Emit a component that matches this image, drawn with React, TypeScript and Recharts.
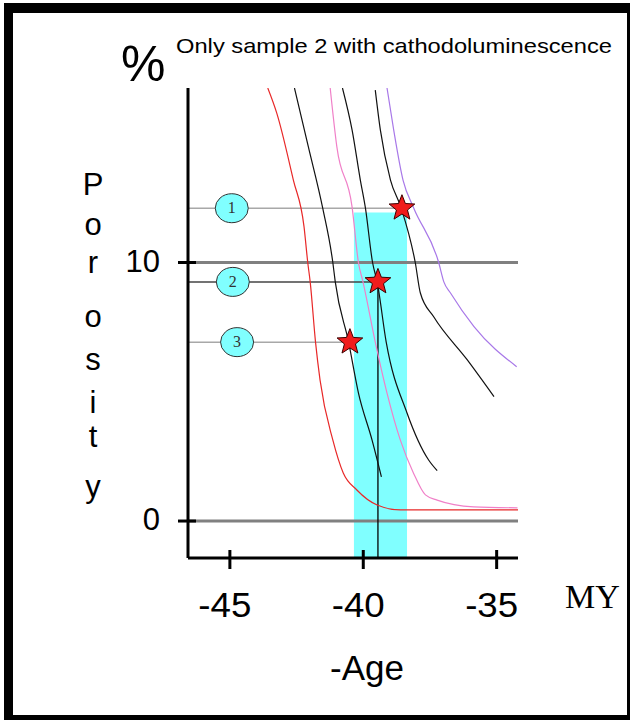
import { ComposedChart, Line, Scatter, XAxis, YAxis, ReferenceLine, ReferenceArea } from "recharts"

const X_MIN = -46.57
const X_MAX = -34.2
const Y_MIN = -1.43
const Y_MAX = 16.75

const xTicks = [-45, -40, -35]
const yTicks = [0, 10]

// porosity curves (x = -age in MY, y = porosity %)
const redCurve = [
  { x: -43.58, y: 16.75 }, { x: -43.24, y: 15.77 }, { x: -42.62, y: 13.19 }, { x: -42.22, y: 11.38 },
  { x: -42.08, y: 9.99 }, { x: -41.99, y: 9.25 }, { x: -41.79, y: 6.92 }, { x: -41.62, y: 5.45 },
  { x: -41.14, y: 3.13 }, { x: -40.75, y: 1.86 }, { x: -40.24, y: 1.2 }, { x: -39.48, y: 0.62 },
  { x: -38.61, y: 0.43 }, { x: -34.17, y: 0.43 },
]
const pinkCurve = [
  { x: -41.24, y: 16.75 }, { x: -40.99, y: 14.47 }, { x: -40.42, y: 12.15 }, { x: -40.18, y: 9.99 },
  { x: -40.01, y: 9.25 }, { x: -39.55, y: 6.92 }, { x: -39.11, y: 4.95 }, { x: -38.61, y: 3.13 },
  { x: -38.12, y: 1.86 }, { x: -37.67, y: 1.01 }, { x: -37.23, y: 0.81 }, { x: -35.86, y: 0.55 },
  { x: -34.22, y: 0.51 },
]
const purpleCurve = [
  { x: -39.11, y: 16.75 }, { x: -38.86, y: 15.13 }, { x: -38.51, y: 13.19 }, { x: -38.11, y: 12.11 },
  { x: -37.17, y: 9.99 }, { x: -36.98, y: 9.25 }, { x: -36.73, y: 8.82 }, { x: -35.85, y: 7.52 },
  { x: -34.25, y: 5.97 },
]
const blackCurveA = [
  { x: -42.58, y: 16.75 }, { x: -42.06, y: 14.48 }, { x: -41.52, y: 12.1 }, { x: -41.14, y: 9.99 },
  { x: -41.05, y: 9.25 }, { x: -40.55, y: 6.92 }, { x: -40.18, y: 4.95 }, { x: -39.67, y: 3.13 },
  { x: -39.32, y: 1.71 },
]
const blackCurveB = [
  { x: -40.78, y: 16.75 }, { x: -40.42, y: 15.13 }, { x: -40.11, y: 13.19 }, { x: -39.92, y: 12.11 },
  { x: -39.65, y: 9.99 }, { x: -39.48, y: 9.25 }, { x: -39.14, y: 6.92 }, { x: -38.36, y: 4.18 },
  { x: -37.55, y: 2.36 }, { x: -37.23, y: 1.95 },
]
const blackCurveC = [
  { x: -39.55, y: 16.67 }, { x: -39.36, y: 15.13 }, { x: -38.98, y: 13.19 }, { x: -38.58, y: 12.11 },
  { x: -38.05, y: 9.99 }, { x: -37.86, y: 8.82 }, { x: -37.36, y: 7.9 }, { x: -36.1, y: 6.23 },
  { x: -35.1, y: 4.81 },
]

const samples = [
  { id: 1, x: -38.55, y: 12.1 },
  { id: 2, x: -39.45, y: 9.25 },
  { id: 3, x: -40.5, y: 6.92 },
]
const sampleTags = [
  { id: 1, x: -44.93, y: 12.1 },
  { id: 2, x: -44.89, y: 9.25 },
  { id: 3, x: -44.73, y: 6.92 },
]
const sampleLineColors = ["#a8a8a8", "#444444", "#a8a8a8"]

const cathodoBand = { from: -40.35, to: -38.36, top: 11.93 }

const porosityLetters = ["P", "o", "r", "o", "s", "i", "t", "y"]
const letterBaselines = [195, 235, 273, 327, 370, 413, 447, 497]

const SANS = "'Liberation Sans', Arial, sans-serif"
const SERIF = "'Liberation Serif', 'Times New Roman', serif"

function XTick(props: any) {
  const { x, y, payload } = props
  return (
    <g>
      <line x1={x} x2={x} y1={y - 8} y2={y + 11} stroke="#000" strokeWidth={3} />
      <text x={x - 5} y={y + 59} textAnchor="middle" fontFamily={SANS} fontSize={35} fill="#000"
        textLength={53} lengthAdjust="spacingAndGlyphs">
        {payload.value}
      </text>
    </g>
  )
}

function YTick(props: any) {
  const { x, y, payload } = props
  return (
    <g>
      <line x1={x - 10} x2={x + 8} y1={y} y2={y} stroke="#000" strokeWidth={3} />
      <text x={x - 28} y={y + 9} textAnchor="end" fontFamily={SANS} fontSize={31} fill="#000">
        {payload.value}
      </text>
    </g>
  )
}

function Star(props: any) {
  const { cx, cy } = props
  const pts: string[] = []
  for (let i = 0; i < 10; i++) {
    const r = i % 2 === 0 ? 13.5 : 5.8
    const a = -Math.PI / 2 + (i * Math.PI) / 5
    pts.push(`${cx + r * Math.cos(a)},${cy + r * Math.sin(a)}`)
  }
  return <polygon points={pts.join(" ")} fill="#f01c1c" stroke="#3a0000" strokeWidth={1} />
}

function Tag(props: any) {
  const { cx, cy, payload } = props
  return (
    <g>
      <ellipse cx={cx} cy={cy} rx={16.5} ry={14.5} fill="#80ffff" stroke="#333" strokeWidth={1} />
      <text x={cx} y={cy + 5} textAnchor="middle" fontFamily={SERIF} fontSize={16} fill="#333">
        {payload.id}
      </text>
    </g>
  )
}

const curveProps = {
  type: "monotone" as const,
  dataKey: "y",
  dot: false,
  activeDot: false,
  isAnimationActive: false,
  strokeWidth: 1.2,
}

export default function App() {
  return (
    <div style={{ position: "absolute", left: 0, top: 0, width: 630, height: 720, background: "#fff" }}>
      <div style={{ position: "absolute", left: 0, top: 0 }}>
        <ComposedChart width={630} height={720} margin={{ top: 88, right: 112, bottom: 102, left: 128 }}>
          <XAxis
            type="number"
            dataKey="x"
            domain={[X_MIN, X_MAX]}
            ticks={xTicks}
            allowDataOverflow
            height={60}
            tickSize={0}
            tickMargin={0}
            tickLine={false}
            axisLine={{ stroke: "#000", strokeWidth: 3 }}
            tick={<XTick />}
          />
          <YAxis
            type="number"
            dataKey="y"
            domain={[Y_MIN, Y_MAX]}
            ticks={yTicks}
            allowDataOverflow
            width={60}
            tickSize={0}
            tickMargin={0}
            tickLine={false}
            axisLine={{ stroke: "#000", strokeWidth: 3 }}
            tick={<YTick />}
          />
          <ReferenceArea
            x1={cathodoBand.from}
            x2={cathodoBand.to}
            y1={Y_MIN}
            y2={cathodoBand.top}
            fill="#80ffff"
            fillOpacity={1}
            stroke="none"
          />
          {yTicks.map((t) => (
            <ReferenceLine key={`g${t}`} y={t} stroke="#808080" strokeWidth={3} />
          ))}
          {samples.map((s, i) => (
            <ReferenceLine
              key={`s${s.id}`}
              segment={[{ x: X_MIN, y: s.y }, { x: s.x, y: s.y }]}
              stroke={sampleLineColors[i]}
              strokeWidth={1.5}
            />
          ))}
          <ReferenceLine
            segment={[{ x: samples[1].x, y: samples[1].y }, { x: samples[1].x, y: Y_MIN }]}
            stroke="#000"
            strokeWidth={1.3}
          />
          <Line {...curveProps} data={redCurve} stroke="#e82828" />
          <Line {...curveProps} data={blackCurveA} stroke="#111" />
          <Line {...curveProps} data={pinkCurve} stroke="#f080c8" />
          <Line {...curveProps} data={blackCurveB} stroke="#111" />
          <Line {...curveProps} data={blackCurveC} stroke="#111" />
          <Line {...curveProps} data={purpleCurve} stroke="#a878e8" />
          <Scatter data={sampleTags} dataKey="y" shape={<Tag />} isAnimationActive={false} />
          <Scatter data={samples} dataKey="y" shape={<Star />} isAnimationActive={false} />
        </ComposedChart>
      </div>
      <svg width={630} height={720} style={{ position: "absolute", left: 0, top: 0, pointerEvents: "none" }}>
        <text x={121} y={81} fontFamily={SANS} fontSize={50} fill="#000">%</text>
        <text x={176} y={53} fontFamily={SANS} fontSize={21} fill="#000" textLength={436} lengthAdjust="spacingAndGlyphs">
          Only sample 2 with cathodoluminescence
        </text>
        {porosityLetters.map((ch, i) => (
          <text key={i} x={93} y={letterBaselines[i]} textAnchor="middle" fontFamily={SANS} fontSize={31} fill="#000">
            {ch}
          </text>
        ))}
        <text x={565} y={608} fontFamily={SERIF} fontSize={34} fill="#000">MY</text>
        <text x={330} y={680} fontFamily={SANS} fontSize={35} fill="#000">-Age</text>
      </svg>
      <div
        style={{
          position: "absolute",
          left: 4,
          top: 3,
          width: 626,
          height: 717,
          boxSizing: "border-box",
          borderTop: "10px solid #000",
          borderLeft: "9px solid #000",
          borderRight: "3px solid #000",
          borderBottom: "5px solid #000",
        }}
      />
    </div>
  )
}
